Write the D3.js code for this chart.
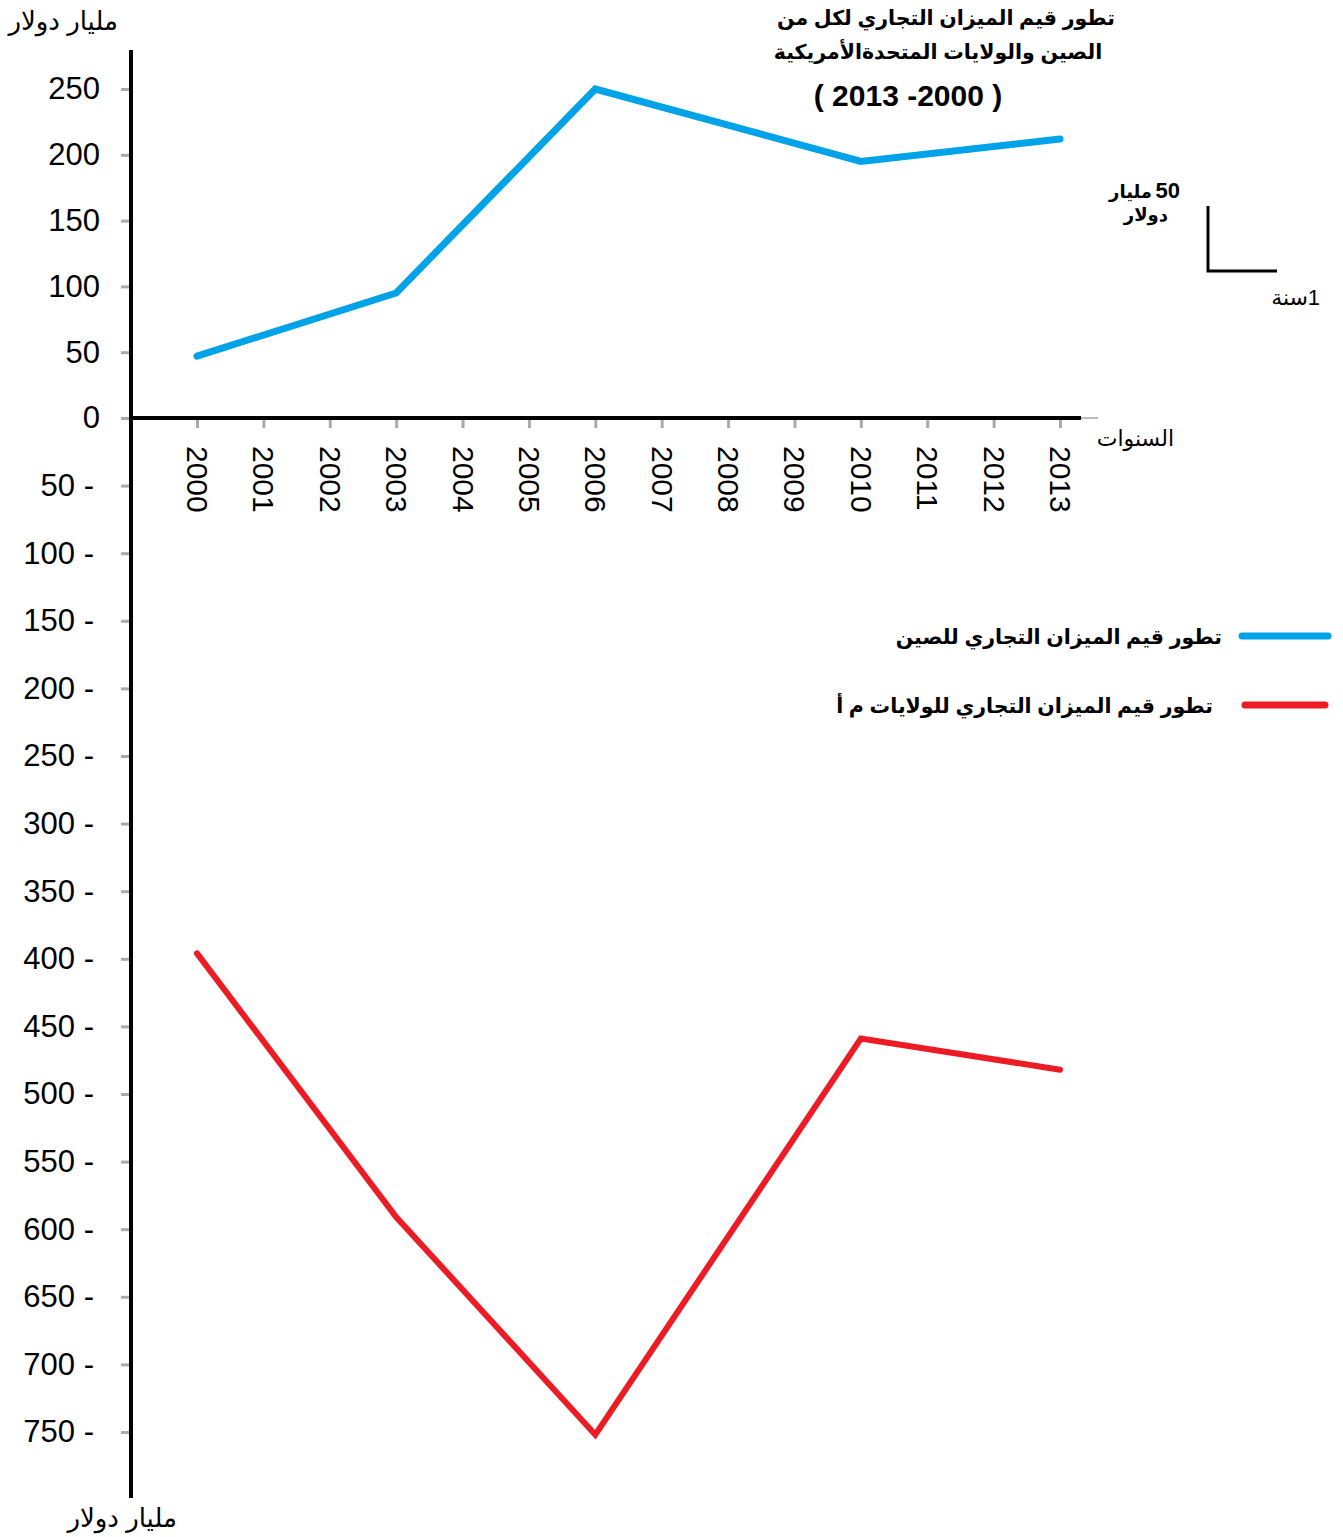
<!DOCTYPE html>
<html>
<head>
<meta charset="utf-8">
<script src="https://cdn.jsdelivr.net/npm/d3@7"></script>
<style>
  body { margin: 0; background: #fff; }
  svg { display: block; font-family: "Liberation Sans", Arial, "DejaVu Sans", sans-serif; }
</style>
</head>
<body>
<svg id="chart" width="1343" height="1537"></svg>
<script>
// data
let years = [2000, 2001, 2002, 2003, 2004, 2005, 2006, 2007, 2008, 2009, 2010, 2011, 2012, 2013]
let china_years = [2000, 2003, 2006, 2010, 2013]
let china_values = [47, 95, 250, 195, 212]
let usa_years = [2000, 2003, 2006, 2010, 2013]
let usa_values = [-396, -591, -752, -459, -482]
let y_ticks = [250, 200, 150, 100, 50, 0, -50, -100, -150, -200, -250, -300, -350, -400,
  -450, -500, -550, -600, -650, -700, -750]

let title_lines = ["تطور قيم الميزان التجاري لكل من", "الصين والولايات المتحدةالأمريكية"]
let title_years = "( 2013 -2000 )"
let legend_labels = ["تطور قيم الميزان التجاري للصين", "تطور قيم الميزان التجاري للولايات م أ"]
let unit_label = "مليار دولار"
let x_label = "السنوات"

let svg = d3.select("#chart")

let x = d3.scaleLinear().domain([2000, 2013]).range([197, 1060])
let y = d3.scaleLinear().domain([-750, 0, 250]).range([1432, 418, 89])

// y axis
let y_axis = d3.axisLeft(y)
  .tickValues(y_ticks)
  .tickSize(8)
  .tickFormat(d => d >= 0 ? d : `${-d} -`)

let gy = svg.append("g")
  .attr("transform", "translate(129, 0)")
  .call(y_axis)
gy.select(".domain").remove()
gy.selectAll(".tick line").attr("stroke", "#aaa").attr("stroke-width", 3)
gy.selectAll(".tick text")
  .attr("font-size", 31)
  .attr("fill", "#000")
  .attr("font-family", "Liberation Sans, Arial, sans-serif")
  .attr("x", d => d >= 0 ? -29 : -35)

svg.append("line")
  .attr("x1", 131).attr("x2", 131)
  .attr("y1", 50).attr("y2", 1498)
  .attr("stroke", "#000").attr("stroke-width", 4)

// x axis
let x_axis = d3.axisBottom(x)
  .tickValues(years)
  .tickSize(8)
  .tickFormat(d3.format("d"))

let gx = svg.append("g")
  .attr("transform", `translate(0, ${y(0) + 2})`)
  .call(x_axis)
gx.select(".domain").remove()
gx.selectAll(".tick line").attr("stroke", "#aaa").attr("stroke-width", 3)
gx.selectAll(".tick text")
  .attr("font-size", 30)
  .attr("fill", "#000")
  .attr("font-family", "Liberation Sans, Arial, sans-serif")
  .attr("text-anchor", "start")
  .attr("dy", "0.35em")
  .attr("transform", "translate(0, 26) rotate(90)")
  .attr("y", 0)
  .attr("x", 0)

svg.append("line")
  .attr("x1", 1080).attr("x2", 1098)
  .attr("y1", y(0)).attr("y2", y(0))
  .attr("stroke", "#bbb").attr("stroke-width", 2)
svg.append("line")
  .attr("x1", 129).attr("x2", 1081)
  .attr("y1", y(0)).attr("y2", y(0))
  .attr("stroke", "#000").attr("stroke-width", 4)

// lines
let line = d3.line()
  .x(d => x(d[0]))
  .y(d => y(d[1]))

svg.append("path")
  .datum(d3.zip(china_years, china_values))
  .attr("d", line)
  .attr("fill", "none")
  .attr("stroke", "#00a2e8")
  .attr("stroke-width", 7)
  .attr("stroke-linecap", "round")

svg.append("path")
  .datum(d3.zip(usa_years, usa_values))
  .attr("d", line)
  .attr("fill", "none")
  .attr("stroke", "#ed1c24")
  .attr("stroke-width", 6)
  .attr("stroke-linecap", "round")

// texts
svg.append("text")
  .attr("x", 118).attr("y", 30)
  .attr("text-anchor", "end")
  .attr("font-size", 26)
  .text(unit_label)
svg.append("text")
  .attr("x", 177).attr("y", 1527)
  .attr("text-anchor", "end")
  .attr("font-size", 26)
  .text(unit_label)
svg.append("text")
  .attr("x", 1174).attr("y", 446)
  .attr("text-anchor", "end")
  .attr("font-size", 22)
  .text(x_label)

// title
svg.selectAll(".title")
  .data(title_lines).enter()
  .append("text")
  .attr("class", "title")
  .attr("x", (d, i) => i == 0 ? 946 : 938)
  .attr("y", (d, i) => 25 + i * 34)
  .attr("text-anchor", "middle")
  .attr("font-size", 20.5)
  .attr("font-weight", "bold")
  .text(d => d)
svg.append("text")
  .attr("x", 908).attr("y", 106)
  .attr("text-anchor", "middle")
  .attr("font-size", 30)
  .attr("font-weight", "bold")
  .text(title_years)

// scale key
svg.append("text")
  .attr("x", 1180).attr("y", 198)
  .attr("text-anchor", "end")
  .attr("font-size", 22).attr("font-weight", "bold")
  .text("50")
svg.append("text")
  .attr("x", 1152).attr("y", 198)
  .attr("text-anchor", "end")
  .attr("font-size", 18).attr("font-weight", "bold")
  .text("مليار")
svg.append("text")
  .attr("x", 1168).attr("y", 221)
  .attr("text-anchor", "end")
  .attr("font-size", 18).attr("font-weight", "bold")
  .text("دولار")
svg.append("path")
  .attr("d", "M1208,206V271H1277")
  .attr("fill", "none")
  .attr("stroke", "#000")
  .attr("stroke-width", 3)
svg.append("text")
  .attr("x", 1320).attr("y", 305)
  .attr("text-anchor", "end")
  .attr("font-size", 22)
  .text("1")
svg.append("text")
  .attr("x", 1308).attr("y", 305)
  .attr("text-anchor", "end")
  .attr("font-size", 22)
  .text("سنة")

// legend
let legend_colors = ["#00a2e8", "#ed1c24"]
let legend = svg.selectAll(".legend")
  .data(legend_labels).enter()
  .append("g")
  .attr("class", "legend")
  .attr("transform", (d, i) => `translate(0, ${636 + i * 69})`)
legend.append("line")
  .attr("x1", (d, i) => i == 0 ? 1242 : 1245)
  .attr("x2", (d, i) => i == 0 ? 1328 : 1325)
  .attr("stroke", (d, i) => legend_colors[i])
  .attr("stroke-width", 7)
  .attr("stroke-linecap", "round")
legend.append("text")
  .attr("x", (d, i) => i == 0 ? 1222 : 1213)
  .attr("y", 8)
  .attr("text-anchor", "end")
  .attr("font-size", 20.5)
  .attr("font-weight", "bold")
  .text(d => d)
</script>
</body>
</html>
